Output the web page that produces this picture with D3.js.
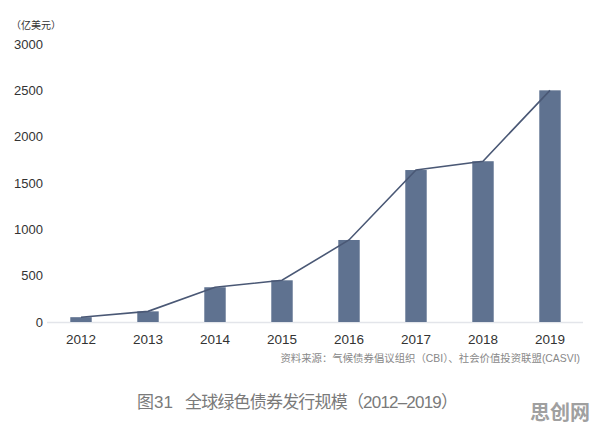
<!DOCTYPE html>
<html>
<head>
<meta charset="utf-8">
<script src="https://cdn.jsdelivr.net/npm/d3@7"></script>
<style>
  body { margin: 0; background: #fff; }
  svg text { font-family: "Liberation Sans", "Noto Sans CJK SC", sans-serif; }
</style>
</head>
<body>
<svg id="chart"></svg>
<script>
// data (亿美元)
var years = ["2012", "2013", "2014", "2015", "2016", "2017", "2018", "2019"];
var issuance = [52, 115, 375, 450, 885, 1640, 1735, 2500];
var yTicks = [0, 500, 1000, 1500, 2000, 2500, 3000];

var width = 596,
    height = 425;

var svg = d3.select("#chart")
    .attr("width", width)
    .attr("height", height);

var x = d3.scaleBand()
    .domain(years)
    .range([47.5, 583.5])
    .paddingInner(0.68)
    .paddingOuter(0.34);

var y = d3.scaleLinear()
    .domain([0, 3000])
    .range([322, 44]);

// baseline
svg.append("line")
    .attr("x1", 47).attr("x2", 583)
    .attr("y1", y(0) + 0.5).attr("y2", y(0) + 0.5)
    .style("stroke", "#e3e5ea")
    .style("stroke-width", 1.5);

// y axis labels
svg.selectAll(".ytick")
    .data(yTicks)
    .enter().append("text")
    .attr("class", "ytick")
    .attr("x", 43)
    .attr("y", function (d) { return y(d); })
    .attr("dy", "0.35em")
    .attr("text-anchor", "end")
    .style("font-size", "13px")
    .style("fill", "#333")
    .text(function (d) { return d; });

svg.append("text")
    .attr("x", 11)
    .attr("y", 25)
    .attr("dy", "0.35em")
    .style("font-size", "10px")
    .style("fill", "#333")
    .text("（亿美元）");

// bars
svg.selectAll(".bar")
    .data(years)
    .enter().append("rect")
    .attr("class", "bar")
    .attr("x", function (d) { return x(d); })
    .attr("width", x.bandwidth())
    .attr("y", function (d, i) { return y(issuance[i]); })
    .attr("height", function (d, i) { return y(0) - y(issuance[i]); })
    .style("fill", "#5f7290");

// line through bar tops
var line = d3.line()
    .x(function (d, i) { return x(years[i]) + x.bandwidth() / 2; })
    .y(function (d) { return y(d); });

svg.append("path")
    .datum(issuance)
    .attr("d", line)
    .style("fill", "none")
    .style("stroke", "#4a5875")
    .style("stroke-width", 1.6);

// x labels
svg.selectAll(".xtick")
    .data(years)
    .enter().append("text")
    .attr("class", "xtick")
    .attr("x", function (d) { return x(d) + x.bandwidth() / 2; })
    .attr("y", 339)
    .attr("dy", "0.35em")
    .attr("text-anchor", "middle")
    .style("font-size", "13.5px")
    .style("fill", "#333")
    .text(function (d) { return d; });

// source note
svg.append("text")
    .attr("x", 580)
    .attr("y", 358)
    .attr("dy", "0.35em")
    .attr("text-anchor", "end")
    .style("font-size", "10.4px")
    .style("fill", "#888")
    .text("资料来源：气候债券倡议组织（CBI）、社会价值投资联盟(CASVI)");

// caption
svg.append("text")
    .attr("x", 137)
    .attr("y", 402)
    .attr("dy", "0.35em")
    .style("font-size", "17px")
    .style("fill", "#7a7a7a")
    .text("图31");

svg.append("text")
    .attr("x", 185)
    .attr("y", 402)
    .attr("dy", "0.35em")
    .attr("textLength", 273)
    .style("font-size", "17px")
    .style("fill", "#7a7a7a")
    .text("全球绿色债券发行规模（2012–2019）");

// watermark
svg.append("text")
    .attr("x", 590)
    .attr("y", 413)
    .attr("dy", "0.35em")
    .attr("text-anchor", "end")
    .style("font-size", "20px")
    .style("font-weight", "bold")
    .style("fill", "#a0a0a0")
    .text("思创网");
</script>
</body>
</html>
